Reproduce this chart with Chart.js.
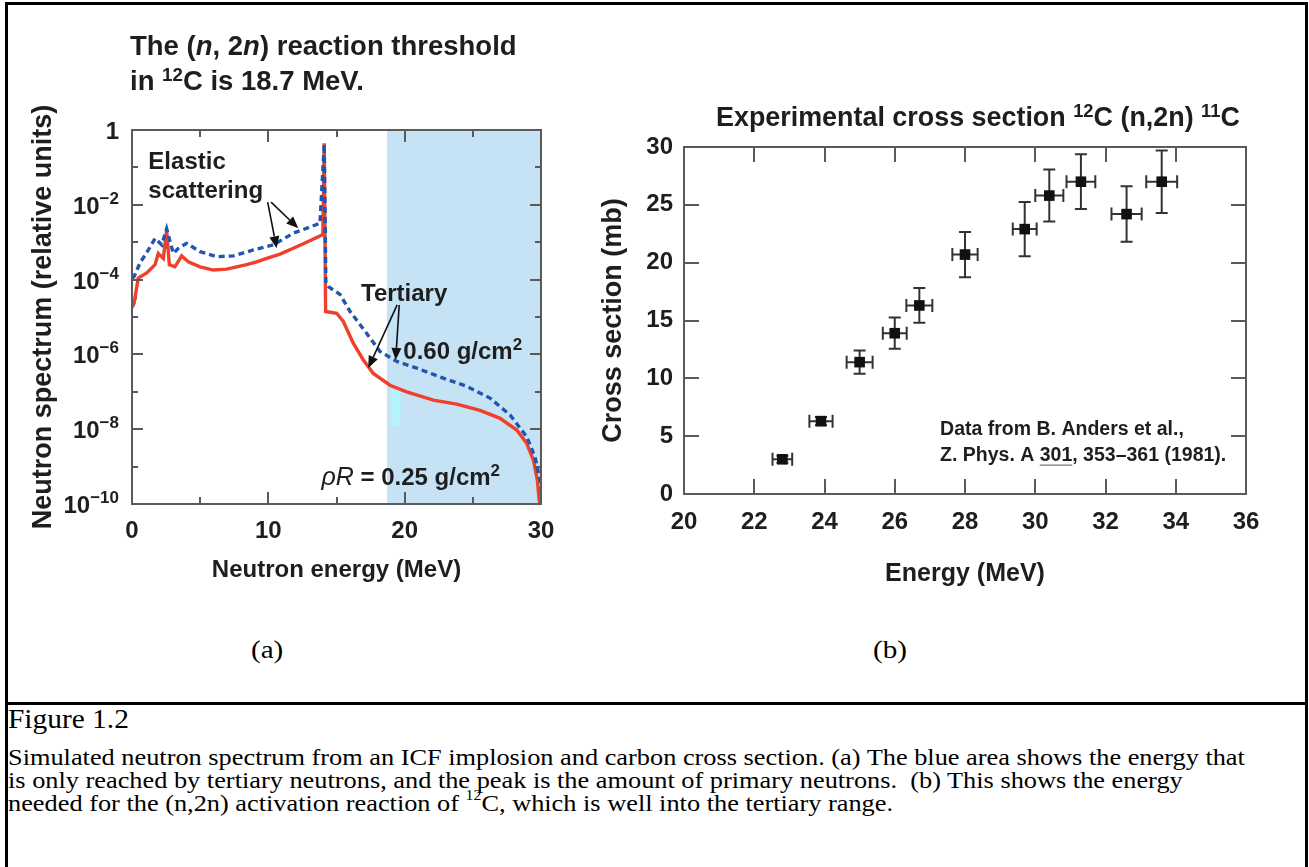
<!DOCTYPE html>
<html>
<head>
<meta charset="utf-8">
<script src="https://cdn.jsdelivr.net/npm/chart.js@4.4.1/dist/chart.umd.min.js"></script>
<style>
html,body{margin:0;padding:0;background:#fff;}
body{width:1309px;height:867px;position:relative;overflow:hidden;font-family:"Liberation Sans",Arial,Helvetica,sans-serif;}
#frame{position:absolute;left:5px;top:2px;width:1297px;height:900px;border:3px solid #000;}
#divider{position:absolute;left:5px;top:702px;width:1303px;height:3px;background:#000;}
canvas{position:absolute;top:0;}
#chartA{left:0;}
#chartB{left:600px;}
.hd{position:absolute;white-space:nowrap;color:#1e1e1e;font-weight:bold;font-family:"Liberation Sans",Arial,sans-serif;}
.sup{font-size:0.68em;position:relative;top:-0.5em;}
.serif{position:absolute;white-space:nowrap;color:#000;font-family:"Liberation Serif","Times New Roman",serif;transform-origin:0 0;}
</style>
</head>
<body>
<div id="frame"></div>
<div id="divider"></div>
<canvas id="chartA" width="600" height="620"></canvas>
<canvas id="chartB" width="709" height="620"></canvas>

<div class="hd" style="left:130px;top:28px;font-size:27.5px;line-height:35px;">The (<i>n</i>, 2<i>n</i>) reaction threshold<br>in <span class="sup">12</span>C is 18.7 MeV.</div>
<div class="hd" style="left:716px;top:104px;font-size:26.9px;line-height:27px;">Experimental cross section <span class="sup">12</span>C (n,2n) <span class="sup">11</span>C</div>

<div class="serif" style="left:251px;top:637px;font-size:26px;line-height:26px;transform:scaleX(1.12);">(a)</div>
<div class="serif" style="left:873px;top:637px;font-size:26px;line-height:26px;transform:scaleX(1.12);">(b)</div>

<div class="serif" style="left:8px;top:705px;font-size:28px;line-height:28px;transform:scaleX(1.05);">Figure 1.2</div>
<div class="serif" style="left:8px;top:746px;font-size:24px;line-height:23px;transform:scaleX(1.097);">Simulated neutron spectrum from an ICF implosion and carbon cross section. (a) The blue area shows the energy that<br>is only reached by tertiary neutrons, and the peak is the amount of primary neutrons.&nbsp; (b) This shows the energy<br>needed for the (n,2n) activation reaction of <span style="font-size:0.6em;position:relative;top:-0.75em;">12</span>C, which is well into the tertiary range.</div>

<script>
// ---------------- DATA ----------------
// (a) simulated neutron spectrum, rhoR = 0.60 g/cm2 (blue dashed)
const energy060 = [0.0, 0.15, 0.59, 1.2, 1.69, 2.18, 2.54, 3.03, 3.40, 4.01, 4.99, 6.21, 7.43, 8.9, 10.37, 11.83, 13.79, 14.1, 14.22, 14.4, 15.26, 16.0, 17.22, 18.19, 19.42, 20.88, 22.59, 24.55, 26.26, 27.73, 28.95, 29.56, 29.93, 30.0];
const spectrum060 = [1.1e-4, 1.2e-4, 2.8e-4, 6.2e-4, 1.26e-3, 8.5e-4, 2.3e-3, 5.0e-4, 6.9e-4, 9.3e-4, 5.6e-4, 4.1e-4, 4.3e-4, 6.2e-4, 8.5e-4, 1.74e-3, 3.2e-3, 0.42, 8.0e-5, 6.5e-5, 4.0e-5, 1.4e-5, 3.6e-6, 1.2e-6, 6.5e-7, 4.3e-7, 2.5e-7, 1.4e-7, 6.8e-8, 2.4e-8, 6.3e-9, 1.8e-9, 4.4e-10, 2.5e-10];
// (a) simulated neutron spectrum, rhoR = 0.25 g/cm2 (red solid)
const energy025 = [0.0, 0.15, 0.46, 1.08, 1.69, 1.93, 2.30, 2.54, 2.74, 3.15, 3.64, 4.13, 4.99, 5.97, 6.95, 7.68, 8.41, 9.14, 9.88, 10.86, 11.83, 12.81, 14.0, 14.1, 14.2, 15.01, 15.5, 16.23, 16.97, 17.70, 18.92, 20.15, 22.10, 23.82, 25.53, 27.0, 28.22, 28.95, 29.44, 29.73, 29.88, 30.0];
const spectrum025 = [1.8e-5, 2.3e-5, 1.1e-4, 1.5e-4, 2.5e-4, 5.0e-4, 3.7e-4, 2.1e-3, 2.5e-4, 2.2e-4, 4.3e-4, 3.0e-4, 2.2e-4, 1.8e-4, 1.9e-4, 2.2e-4, 2.5e-4, 3.0e-4, 3.7e-4, 4.8e-4, 6.9e-4, 1.0e-3, 1.6e-3, 0.44, 1.4e-5, 1.26e-5, 7.6e-6, 2.0e-6, 7.1e-7, 3.1e-7, 1.5e-7, 1.0e-7, 6.0e-8, 4.7e-8, 3.2e-8, 1.95e-8, 9.5e-9, 4.2e-9, 1.5e-9, 4.4e-10, 1.15e-10, 1.0e-10];
// (a) short black trace at the low-energy end
const energyLow = [0.0, 0.12, 0.3];
const spectrumLow = [1.9e-5, 2.1e-5, 3.6e-5];
const thresholdMeV = 18.7;   // (n,2n) threshold in 12C
const maxEnergyA = 30;
// small cyan mark in the tertiary region [E0, E1, low, high]
const cyanMark = [19.05, 19.7, 1.2e-8, 1.1e-7];
// axis ticks (a)
const decadeTicks = [1e-10, 1e-9, 1e-8, 1e-7, 1e-6, 1e-5, 1e-4, 1e-3, 1e-2, 1e-1, 1];
const decadeBase = ['10', '', '10', '', '10', '', '10', '', '10', '', '1'];
const decadeExp  = ['\u221210', '', '\u22128', '', '\u22126', '', '\u22124', '', '\u22122', '', ''];
const energyTicksA = [0, 5, 10, 15, 20, 25, 30];
const energyLabelsA = [0, 10, 20, 30];

// (b) experimental 12C(n,2n)11C cross section, B. Anders et al. 1981
const csEnergy = [22.8, 23.9, 25.0, 26.0, 26.7, 28.0, 29.7, 30.4, 31.3, 32.6, 33.6];
const csValue  = [3.0, 6.3, 11.4, 13.9, 16.3, 20.7, 22.9, 25.8, 27.0, 24.2, 27.0];
const csErrE   = [0.28, 0.33, 0.37, 0.34, 0.37, 0.36, 0.34, 0.40, 0.41, 0.43, 0.44];
const csErrV   = [0.3, 0.35, 1.0, 1.35, 1.5, 1.95, 2.35, 2.25, 2.37, 2.4, 2.7];
const energyTicksB = [20, 22, 24, 26, 28, 30, 32, 34, 36];
const csTicksB = [0, 5, 10, 15, 20, 25, 30];

// ---------------- STYLE / PLUGINS ----------------
Chart.defaults.font.family = "'Liberation Sans', Arial, Helvetica, sans-serif";
Chart.defaults.color = '#1e1e1e';
const FRAME = '#5a5a5a';
const TXT = '#1e1e1e';
const SANS = '"Liberation Sans", Arial, sans-serif';

function drawFrame(chart, xTicks, yTicks, xLen, yLen) {
  const {ctx, chartArea: a, scales: {x, y}} = chart;
  ctx.save();
  ctx.strokeStyle = FRAME;
  ctx.lineWidth = 2;
  ctx.strokeRect(a.left, a.top, a.right - a.left, a.bottom - a.top);
  ctx.beginPath();
  xTicks.forEach((v, i) => {
    const p = Math.round(x.getPixelForValue(v));
    const L = xLen(v, i);
    ctx.moveTo(p, a.bottom); ctx.lineTo(p, a.bottom - L);
    ctx.moveTo(p, a.top); ctx.lineTo(p, a.top + L);
  });
  yTicks.forEach((v, i) => {
    const p = Math.round(y.getPixelForValue(v));
    const L = yLen(v, i);
    ctx.moveTo(a.left, p); ctx.lineTo(a.left + L, p);
    ctx.moveTo(a.right, p); ctx.lineTo(a.right - L, p);
  });
  ctx.stroke();
  ctx.restore();
}

function drawArrow(ctx, x1, y1, x2, y2) {
  const ang = Math.atan2(y2 - y1, x2 - x1);
  const hl = 12, hw = 5;
  const bx = x2 - hl * Math.cos(ang), by = y2 - hl * Math.sin(ang);
  ctx.beginPath();
  ctx.moveTo(x1, y1); ctx.lineTo(bx, by);
  ctx.stroke();
  ctx.beginPath();
  ctx.moveTo(x2, y2);
  ctx.lineTo(bx + hw * Math.sin(ang), by - hw * Math.cos(ang));
  ctx.lineTo(bx - hw * Math.sin(ang), by + hw * Math.cos(ang));
  ctx.closePath();
  ctx.fill();
}

function drawParts(ctx, px, py, parts) {
  let cx = px;
  const spans = [];
  parts.forEach(p => {
    ctx.font = p.font;
    const w = ctx.measureText(p.t).width;
    const dy = p.dy || 0;
    ctx.fillText(p.t, cx, py + dy);
    spans.push({x: cx, w: w, under: p.under});
    cx += w;
  });
  return spans;
}

const annotationsA = {
  texts: [
    {x: 1.2, y: 0.089, parts: [{t: 'Elastic', font: 'bold 24px ' + SANS}]},
    {x: 1.2, y: 0.0149, parts: [{t: 'scattering', font: 'bold 24px ' + SANS}]},
    {x: 16.8, y: 2.73e-5, parts: [{t: 'Tertiary', font: 'bold 24px ' + SANS}]},
    {x: 19.9, y: 7.4e-7, parts: [{t: '0.60 g/cm', font: 'bold 24px ' + SANS}, {t: '2', font: 'bold 17px ' + SANS, dy: -9}]},
    {x: 13.9, y: 3.2e-10, parts: [{t: '\u03C1R', font: 'italic 25px ' + SANS}, {t: ' = 0.25 g/cm', font: 'bold 24px ' + SANS}, {t: '2', font: 'bold 17px ' + SANS, dy: -9}]}
  ],
  arrows: [
    [9.95, 0.0118, 10.61, 6.9e-4],
    [10.2, 0.0118, 12.2, 2.35e-3],
    [19.45, 2.1e-5, 17.33, 4.3e-7],
    [19.6, 2.1e-5, 19.34, 7.1e-7]
  ]
};

const threshPlugin = {
  id: 'thresh',
  beforeDatasetsDraw(chart) {
    const {ctx, chartArea: a, scales: {x, y}} = chart;
    const x0 = x.getPixelForValue(thresholdMeV);
    const x1 = x.getPixelForValue(maxEnergyA);
    ctx.save();
    ctx.fillStyle = '#c6e3f5';
    ctx.fillRect(x0, a.top, x1 - x0, a.bottom - a.top);
    const cx0 = x.getPixelForValue(cyanMark[0]), cx1 = x.getPixelForValue(cyanMark[1]);
    const cy0 = y.getPixelForValue(cyanMark[3]), cy1 = y.getPixelForValue(cyanMark[2]);
    ctx.fillStyle = '#b4f4fc';
    ctx.fillRect(cx0, cy0, cx1 - cx0, cy1 - cy0);
    ctx.restore();
  }
};

const frameAPlugin = {
  id: 'frameA',
  afterDatasetsDraw(chart) {
    drawFrame(chart, energyTicksA, decadeTicks,
      (v) => (v % 10 === 0 ? 12 : 7),
      (v) => (Math.round(Math.log10(v)) % 2 === 0 ? 11 : 6));
    const {ctx, chartArea: area, scales: {x, y}} = chart;
    ctx.save();
    // log-axis tick labels with raised exponents
    ctx.fillStyle = TXT; ctx.textBaseline = 'alphabetic'; ctx.textAlign = 'left';
    decadeTicks.forEach((v, i) => {
      if (!decadeBase[i]) return;
      const py = y.getPixelForValue(v);
      ctx.font = 'bold 17px ' + SANS;
      const we = decadeExp[i] ? ctx.measureText(decadeExp[i]).width : 0;
      ctx.font = 'bold 24px ' + SANS;
      const wb = ctx.measureText(decadeBase[i]).width;
      const right = area.left - 13;
      ctx.fillText(decadeBase[i], right - we - wb, py + 9);
      if (decadeExp[i]) {
        ctx.font = 'bold 17px ' + SANS;
        ctx.fillText(decadeExp[i], right - we, py - 1);
      }
    });
    ctx.strokeStyle = '#111'; ctx.lineWidth = 1.6;
    annotationsA.texts.forEach(t => drawParts(ctx, x.getPixelForValue(t.x), y.getPixelForValue(t.y), t.parts));
    ctx.fillStyle = '#111';
    annotationsA.arrows.forEach(a => drawArrow(ctx, x.getPixelForValue(a[0]), y.getPixelForValue(a[1]), x.getPixelForValue(a[2]), y.getPixelForValue(a[3])));
    ctx.restore();
  }
};

const annotationsB = [
  {x: 27.29, y: 5.1, parts: [{t: 'Data from B. Anders et al.,', font: 'bold 19.5px ' + SANS}]},
  {x: 27.29, y: 2.85, parts: [{t: 'Z. Phys. A ', font: 'bold 19.5px ' + SANS}, {t: '301', font: 'bold 19.5px ' + SANS, under: true}, {t: ', 353\u2013361 (1981).', font: 'bold 19.5px ' + SANS}]}
];

const errorBarPlugin = {
  id: 'errbars',
  beforeDatasetsDraw(chart) {
    const {ctx, scales: {x, y}} = chart;
    ctx.save();
    ctx.strokeStyle = '#333';
    ctx.lineWidth = 2;
    ctx.beginPath();
    csEnergy.forEach((e, i) => {
      const px = x.getPixelForValue(e), py = y.getPixelForValue(csValue[i]);
      const xl = x.getPixelForValue(e - csErrE[i]), xr = x.getPixelForValue(e + csErrE[i]);
      const yb = y.getPixelForValue(csValue[i] - csErrV[i]), yt = y.getPixelForValue(csValue[i] + csErrV[i]);
      ctx.moveTo(xl, py); ctx.lineTo(xr, py);
      ctx.moveTo(xl, py - 6.5); ctx.lineTo(xl, py + 6.5);
      ctx.moveTo(xr, py - 6.5); ctx.lineTo(xr, py + 6.5);
      ctx.moveTo(px, yb); ctx.lineTo(px, yt);
      ctx.moveTo(px - 6, yb); ctx.lineTo(px + 6, yb);
      ctx.moveTo(px - 6, yt); ctx.lineTo(px + 6, yt);
    });
    ctx.stroke();
    ctx.restore();
  }
};

const frameBPlugin = {
  id: 'frameB',
  afterDatasetsDraw(chart) {
    drawFrame(chart, energyTicksB, csTicksB, () => 15, () => 15);
    const {ctx, scales: {x, y}} = chart;
    ctx.save();
    ctx.fillStyle = TXT; ctx.textBaseline = 'alphabetic'; ctx.textAlign = 'left';
    annotationsB.forEach(t => {
      const py = y.getPixelForValue(t.y);
      const spans = drawParts(ctx, x.getPixelForValue(t.x), py, t.parts);
      spans.forEach(s => {
        if (s.under) {
          ctx.strokeStyle = '#777'; ctx.lineWidth = 1.3;
          ctx.beginPath(); ctx.moveTo(s.x, py + 4); ctx.lineTo(s.x + s.w, py + 4); ctx.stroke();
        }
      });
    });
    ctx.restore();
  }
};

// ---------------- CHART (a) ----------------
new Chart(document.getElementById('chartA'), {
  type: 'line',
  data: {
    datasets: [
      {
        label: '\u03C1R = 0.60 g/cm\u00B2',
        data: energy060.map((e, i) => ({x: e, y: spectrum060[i]})),
        borderColor: '#2256ae', borderWidth: 3.4, borderDash: [6, 4],
        pointRadius: 0, tension: 0, fill: false
      },
      {
        label: '\u03C1R = 0.25 g/cm\u00B2',
        data: energy025.map((e, i) => ({x: e, y: spectrum025[i]})),
        borderColor: '#f0402c', borderWidth: 3.4,
        pointRadius: 0, tension: 0, fill: false
      },
      {
        label: 'low-energy trace',
        data: energyLow.map((e, i) => ({x: e, y: spectrumLow[i]})),
        borderColor: '#222', borderWidth: 2.2,
        pointRadius: 0, tension: 0, fill: false
      }
    ]
  },
  options: {
    responsive: false, animation: false, devicePixelRatio: 1,
    layout: {padding: {top: 130, right: 59, bottom: 0, left: 0}},
    plugins: {legend: {display: false}, tooltip: {enabled: false}},
    scales: {
      x: {
        type: 'linear', min: 0, max: maxEnergyA,
        afterBuildTicks: (s) => { s.ticks = energyLabelsA.map(v => ({value: v})); },
        ticks: {padding: 13, font: {size: 24, weight: 'bold'}, color: TXT, autoSkip: false, maxRotation: 0},
        grid: {display: false, drawTicks: false}, border: {display: false},
        title: {display: true, text: 'Neutron energy (MeV)', color: TXT, font: {size: 24, weight: 'bold', lineHeight: 1}, padding: {top: 0, bottom: 38}},
        afterFit: (s) => { s.height = 116; }
      },
      y: {
        type: 'logarithmic', min: 1e-10, max: 1,
        afterBuildTicks: (s) => { s.ticks = decadeTicks.map(v => ({value: v})); },
        ticks: {display: false},
        grid: {display: false, drawTicks: false}, border: {display: false},
        title: {display: true, text: 'Neutron spectrum (relative units)', color: TXT, font: {size: 27, weight: 'bold', lineHeight: 1}, padding: {top: 30, bottom: 0}},
        afterFit: (s) => { s.width = 132; }
      }
    }
  },
  plugins: [threshPlugin, frameAPlugin]
});

// ---------------- CHART (b) ----------------
new Chart(document.getElementById('chartB'), {
  type: 'scatter',
  data: {
    datasets: [{
      label: '12C(n,2n)11C',
      data: csEnergy.map((e, i) => ({x: e, y: csValue[i]})),
      pointStyle: 'rect', pointRadius: 7.5, pointHoverRadius: 7.5,
      backgroundColor: '#111', borderColor: '#111', borderWidth: 0
    }]
  },
  options: {
    responsive: false, animation: false, devicePixelRatio: 1,
    layout: {padding: {top: 147, right: 63, bottom: 0, left: 0}},
    plugins: {legend: {display: false}, tooltip: {enabled: false}},
    scales: {
      x: {
        type: 'linear', min: 20, max: 36,
        afterBuildTicks: (s) => { s.ticks = energyTicksB.map(v => ({value: v})); },
        ticks: {padding: 14, font: {size: 24, weight: 'bold'}, color: TXT, autoSkip: false, maxRotation: 0},
        grid: {display: false, drawTicks: false}, border: {display: false},
        title: {display: true, text: 'Energy (MeV)', color: TXT, font: {size: 25, weight: 'bold', lineHeight: 1}, padding: {top: 0, bottom: 33}},
        afterFit: (s) => { s.height = 126; }
      },
      y: {
        type: 'linear', min: 0, max: 30,
        afterBuildTicks: (s) => { s.ticks = csTicksB.map(v => ({value: v})); },
        ticks: {padding: 11, font: {size: 24, weight: 'bold'}, color: TXT, autoSkip: false},
        grid: {display: false, drawTicks: false}, border: {display: false},
        title: {display: true, text: 'Cross section (mb)', color: TXT, font: {size: 27, weight: 'bold', lineHeight: 1}, padding: {top: 0, bottom: 0}},
        afterFit: (s) => { s.width = 84; }
      }
    }
  },
  plugins: [errorBarPlugin, frameBPlugin]
});
</script>
</body>
</html>
